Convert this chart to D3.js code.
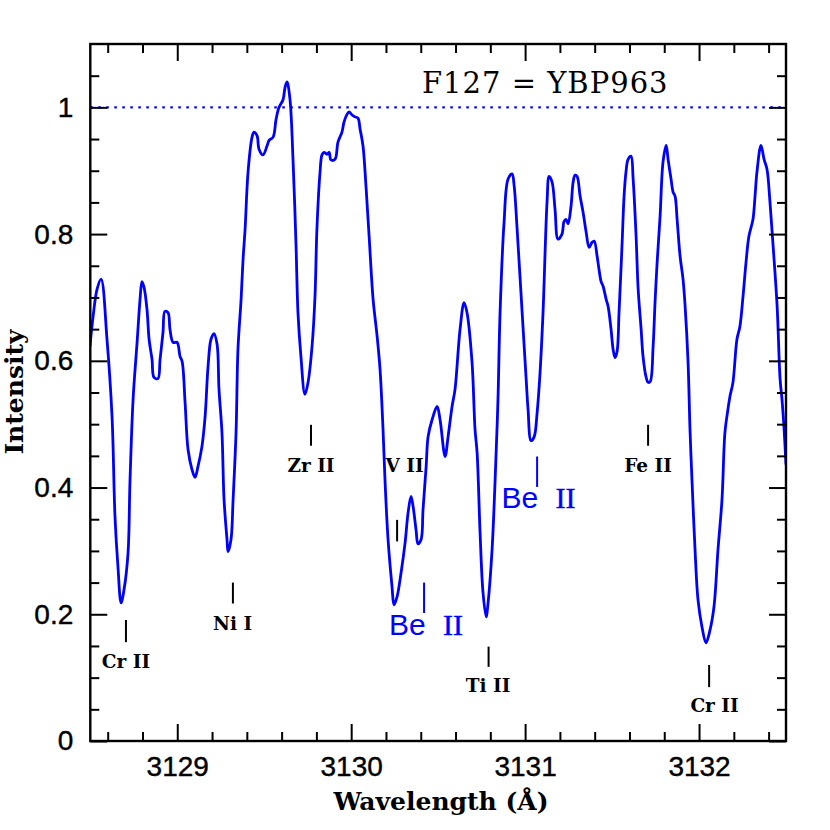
<!DOCTYPE html>
<html><head><meta charset="utf-8">
<script src="https://cdn.jsdelivr.net/npm/d3@7"></script>
<style>body{margin:0;background:#fff} svg{display:block}</style>
</head><body><svg id="c" width="830" height="830"></svg>
<script>
// ---- data ----
const wavelength = [3128.498,3128.516,3128.539,3128.562,3128.596,3128.625,3128.642,3128.659,3128.677,3128.694,
3128.717,3128.728,3128.746,3128.769,3128.786,3128.797,3128.809,3128.826,3128.838,3128.855,
3128.866,3128.889,3128.901,3128.918,3128.929,3128.947,3128.958,3128.976,3128.999,3129.016,
3129.028,3129.045,3129.062,3129.085,3129.102,3129.119,3129.142,3129.160,3129.177,3129.194,
3129.211,3129.229,3129.240,3129.257,3129.269,3129.286,3129.292,3129.309,3129.321,3129.338,
3129.349,3129.367,3129.378,3129.390,3129.407,3129.430,3129.441,3129.459,3129.470,3129.493,
3129.516,3129.528,3129.551,3129.568,3129.585,3129.608,3129.620,3129.631,3129.648,3129.666,
3129.683,3129.694,3129.711,3129.734,3129.752,3129.775,3129.792,3129.803,3129.821,3129.832,
3129.844,3129.861,3129.873,3129.884,3129.907,3129.924,3129.947,3129.959,3129.976,3129.988,
3130.005,3130.022,3130.039,3130.051,3130.068,3130.085,3130.103,3130.126,3130.149,3130.166,
3130.183,3130.195,3130.212,3130.235,3130.246,3130.264,3130.287,3130.310,3130.327,3130.344,
3130.356,3130.373,3130.384,3130.402,3130.413,3130.431,3130.442,3130.465,3130.494,3130.511,
3130.540,3130.557,3130.580,3130.597,3130.626,3130.649,3130.666,3130.695,3130.712,3130.724,
3130.741,3130.758,3130.776,3130.787,3130.810,3130.827,3130.844,3130.856,3130.879,3130.902,
3130.925,3130.937,3130.954,3130.983,3131.006,3131.017,3131.034,3131.052,3131.069,3131.086,
3131.103,3131.126,3131.138,3131.155,3131.172,3131.189,3131.212,3131.224,3131.236,3131.247,
3131.264,3131.276,3131.287,3131.299,3131.316,3131.333,3131.351,3131.368,3131.385,3131.397,
3131.414,3131.425,3131.437,3131.448,3131.466,3131.477,3131.494,3131.506,3131.517,3131.529,
3131.540,3131.557,3131.569,3131.580,3131.592,3131.609,3131.621,3131.638,3131.650,3131.667,
3131.678,3131.695,3131.707,3131.719,3131.736,3131.747,3131.759,3131.776,3131.793,3131.811,
3131.822,3131.839,3131.851,3131.862,3131.874,3131.891,3131.908,3131.920,3131.937,3131.948,
3131.960,3131.977,3131.994,3132.017,3132.040,3132.063,3132.086,3132.109,3132.132,3132.149,
3132.166,3132.178,3132.195,3132.218,3132.235,3132.253,3132.270,3132.287,3132.310,3132.322,
3132.333,3132.356,3132.374,3132.391,3132.408,3132.426,3132.449,3132.466,3132.477,3132.489,
3132.500];
const intensity = [0.623,0.670,0.713,0.729,0.634,0.512,0.354,0.275,0.218,0.239,
0.297,0.408,0.539,0.629,0.697,0.725,0.716,0.681,0.634,0.602,
0.574,0.572,0.602,0.645,0.678,0.676,0.650,0.629,0.629,0.607,
0.599,0.534,0.460,0.428,0.416,0.433,0.465,0.512,0.591,0.634,
0.643,0.626,0.555,0.487,0.381,0.318,0.299,0.318,0.381,0.487,
0.618,0.697,0.759,0.808,0.898,0.953,0.961,0.955,0.934,0.925,
0.939,0.948,0.953,0.981,1.000,1.012,1.032,1.040,1.013,0.914,
0.781,0.676,0.607,0.547,0.566,0.623,0.702,0.808,0.898,0.925,
0.929,0.926,0.929,0.917,0.918,0.945,0.961,0.977,0.989,0.993,
0.988,0.985,0.983,0.966,0.939,0.876,0.797,0.697,0.639,0.586,
0.492,0.408,0.318,0.243,0.215,0.228,0.266,0.313,0.360,0.386,
0.370,0.333,0.311,0.318,0.365,0.433,0.480,0.507,0.528,0.507,
0.449,0.480,0.528,0.555,0.650,0.692,0.676,0.597,0.492,0.455,
0.329,0.234,0.196,0.218,0.302,0.408,0.539,0.676,0.819,0.887,
0.895,0.876,0.808,0.676,0.571,0.523,0.474,0.480,0.518,0.582,
0.676,0.850,0.891,0.882,0.839,0.792,0.800,0.820,0.823,0.816,
0.844,0.882,0.893,0.891,0.860,0.835,0.803,0.779,0.787,0.789,
0.765,0.744,0.725,0.718,0.697,0.686,0.650,0.618,0.605,0.615,
0.676,0.781,0.860,0.898,0.918,0.923,0.887,0.797,0.713,0.650,
0.607,0.575,0.566,0.567,0.623,0.692,0.755,0.828,0.914,0.940,
0.918,0.887,0.866,0.860,0.823,0.765,0.729,0.686,0.597,0.492,
0.408,0.302,0.223,0.180,0.155,0.175,0.212,0.302,0.381,0.487,
0.523,0.544,0.566,0.634,0.654,0.702,0.755,0.797,0.823,0.860,
0.898,0.940,0.918,0.902,0.850,0.781,0.686,0.571,0.539,0.492,
0.436];

const xDomain = [3128.5, 3132.5];
const yDomain = [0, 1.1];
const xMajorTicks = [3129, 3130, 3131, 3132];
const xTickLabels = ["3129", "3130", "3131", "3132"];
const yMajorTicks = [0, 0.2, 0.4, 0.6, 0.8, 1];
const yTickLabels = ["0", "0.2", "0.4", "0.6", "0.8", "1"];
const continuumLevel = 1;

// line identifications (black)
const lineNames   = ["Cr II", "Ni I", "Zr II", "V II", "Ti II", "Fe II", "Cr II"];
const lineTickWl  = [3128.705, 3129.320, 3129.769, 3130.264, 3130.790, 3131.707, 3132.058];
const lineTickLo  = [0.156, 0.217, 0.466, 0.315, 0.117, 0.466, 0.085];
const lineTickHi  = [0.191, 0.250, 0.499, 0.349, 0.149, 0.499, 0.120];
const lineLabelWl = [3128.705, 3129.318, 3129.769, 3130.307, 3130.787, 3131.707, 3132.089];
const lineLabelI  = [0.115, 0.175, 0.425, 0.425, 0.077, 0.425, 0.046];

// Be II lines (blue)
const beTickWl  = [3130.419, 3131.069];
const beTickLo  = [0.202, 0.401];
const beTickHi  = [0.250, 0.449];
const beLabelWl = [3130.422, 3131.069];
const beLabelI  = [0.168, 0.368];

const titleText = "F127 = YBP963";
const xTitle = "Wavelength (Å)";
const yTitle = "Intensity";

// ---- drawing ----
const L = 90.3, R = 786, T = 44, B = 741;
const svg = d3.select("#c");
const x = d3.scaleLinear(xDomain, [L, R]);
const y = d3.scaleLinear(yDomain, [B, T]);
const blue = "#0000ff";

svg.append("defs").append("clipPath").attr("id", "clip")
  .append("rect").attr("x", L).attr("y", T).attr("width", R - L).attr("height", B - T);

// continuum dotted line
svg.append("line")
  .attr("x1", x(xDomain[0])).attr("x2", x(xDomain[1]))
  .attr("y1", y(continuumLevel)).attr("y2", y(continuumLevel))
  .attr("stroke", blue).attr("stroke-width", 2.2).attr("stroke-dasharray", "2.5,5.5");

// spectrum
const pts = wavelength.map((w, i) => [w, intensity[i]]);
svg.append("path").datum(pts)
  .attr("clip-path", "url(#clip)")
  .attr("fill", "none").attr("stroke", blue).attr("stroke-width", 2.8)
  .attr("stroke-linejoin", "round")
  .attr("d", d3.line().x(d => x(d[0])).y(d => y(d[1])).curve(d3.curveCatmullRom.alpha(0.5)));

// axes
const xMinor = d3.range(3128.6, 3132.45, 0.2).filter(v => Math.abs(v - Math.round(v)) > 0.01);
const yMinor = d3.range(0.05, 1.1, 0.05).filter(v => Math.abs(v * 5 - Math.round(v * 5)) > 0.01);

function styleAxis(g) {
  g.select(".domain").remove();
  g.selectAll(".tick line").attr("stroke", "#000").attr("stroke-width", 2);
}
const tickFont = "'Liberation Sans', Arial, sans-serif";
function styleLabels(g) {
  g.selectAll("text").attr("font-family", tickFont).attr("font-size", 28).attr("fill", "#000")
    .attr("stroke", "#000").attr("stroke-width", 0.4);
}

svg.append("g").attr("transform", `translate(0,${B})`)
  .call(d3.axisBottom(x).tickValues(xMajorTicks).tickSize(-17).tickPadding(15)
    .tickFormat((d, i) => xTickLabels[i]))
  .call(styleAxis).call(styleLabels);
svg.append("g").attr("transform", `translate(0,${B})`)
  .call(d3.axisBottom(x).tickValues(xMinor).tickSize(-9).tickFormat("")).call(styleAxis);
svg.append("g").attr("transform", `translate(0,${T})`)
  .call(d3.axisTop(x).tickValues(xMajorTicks).tickSize(-17).tickFormat("")).call(styleAxis);
svg.append("g").attr("transform", `translate(0,${T})`)
  .call(d3.axisTop(x).tickValues(xMinor).tickSize(-9).tickFormat("")).call(styleAxis);

svg.append("g").attr("transform", `translate(${L},0)`)
  .call(d3.axisLeft(y).tickValues(yMajorTicks).tickSize(-17).tickPadding(17)
    .tickFormat((d, i) => yTickLabels[i]))
  .call(styleAxis).call(styleLabels);
svg.append("g").attr("transform", `translate(${L},0)`)
  .call(d3.axisLeft(y).tickValues(yMinor).tickSize(-9).tickFormat("")).call(styleAxis);
svg.append("g").attr("transform", `translate(${R},0)`)
  .call(d3.axisRight(y).tickValues(yMajorTicks).tickSize(-17).tickFormat("")).call(styleAxis);
svg.append("g").attr("transform", `translate(${R},0)`)
  .call(d3.axisRight(y).tickValues(yMinor).tickSize(-9).tickFormat("")).call(styleAxis);

// frame
svg.append("rect").attr("x", L).attr("y", T).attr("width", R - L).attr("height", B - T)
  .attr("fill", "none").attr("stroke", "#000").attr("stroke-width", 2.4);

// title
svg.append("text").attr("x", 422).attr("y", 93)
  .attr("font-family", "'DejaVu Serif', serif").attr("font-size", 29)
  .attr("letter-spacing", 1).attr("fill", "#000").text(titleText);

// axis titles
svg.append("text").attr("x", 441).attr("y", 810).attr("text-anchor", "middle")
  .attr("font-family", "'DejaVu Serif', serif").attr("font-weight", "bold").attr("font-size", 25)
  .text(xTitle);
svg.append("text").attr("transform", "translate(23,392) rotate(-90)").attr("text-anchor", "middle")
  .attr("font-family", "'DejaVu Serif', serif").attr("font-weight", "bold").attr("font-size", 25)
  .text(yTitle);

// black line identifications
const labG = svg.append("g");
lineNames.forEach((name, i) => {
  labG.append("line").attr("x1", x(lineTickWl[i])).attr("x2", x(lineTickWl[i]))
    .attr("y1", y(lineTickLo[i])).attr("y2", y(lineTickHi[i]))
    .attr("stroke", "#000").attr("stroke-width", 2);
  labG.append("text").attr("x", x(lineLabelWl[i])).attr("y", y(lineLabelI[i]))
    .attr("text-anchor", "middle")
    .attr("font-family", "'DejaVu Serif', serif").attr("font-weight", "bold").attr("font-size", 18.5)
    .attr("fill", "#000").text(name);
});

// Be II identifications
beTickWl.forEach((w, i) => {
  labG.append("line").attr("x1", x(w)).attr("x2", x(w))
    .attr("y1", y(beTickLo[i])).attr("y2", y(beTickHi[i]))
    .attr("stroke", blue).attr("stroke-width", 2);
  const x0 = x(beLabelWl[i]) - 35.5;
  const t = labG.append("text").attr("x", x0).attr("y", y(beLabelI[i]))
    .attr("fill", blue).attr("font-size", 30);
  t.append("tspan").attr("font-family", "'Liberation Sans', Arial, sans-serif").text("Be");
  t.append("tspan").attr("x", x0 + 54).attr("font-family", "'Liberation Serif', serif")
    .attr("stroke", blue).attr("stroke-width", 0.4).text("II");
});
</script>
</body></html>
